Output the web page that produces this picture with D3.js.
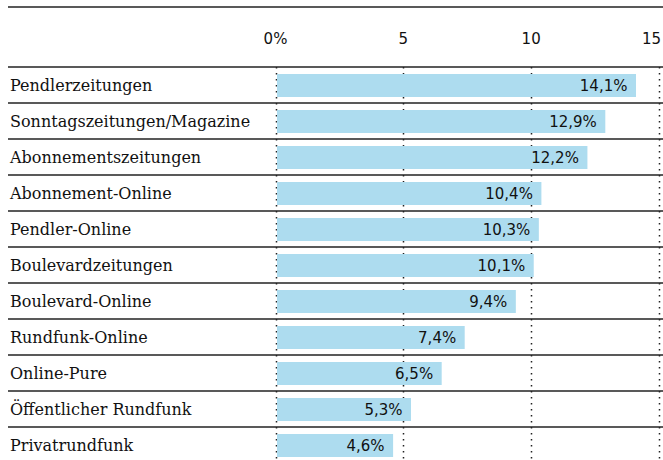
<!DOCTYPE html>
<html>
<head>
<meta charset="utf-8">
<script src="https://cdn.jsdelivr.net/npm/d3@7"></script>
<style>
  html, body { margin: 0; padding: 0; background: #fff; }
  svg { display: block; }
</style>
</head>
<body>
<svg id="chart" width="663" height="460"></svg>
<script>
// Media categories and their shares (percent)
const categories = [
  "Pendlerzeitungen",
  "Sonntagszeitungen/Magazine",
  "Abonnementszeitungen",
  "Abonnement-Online",
  "Pendler-Online",
  "Boulevardzeitungen",
  "Boulevard-Online",
  "Rundfunk-Online",
  "Online-Pure",
  "Öffentlicher Rundfunk",
  "Privatrundfunk"
];
const values = [14.1, 12.9, 12.2, 10.4, 10.3, 10.1, 9.4, 7.4, 6.5, 5.3, 4.6];
const tickValues = [0, 5, 10, 15];
const tickLabels = ["0%", "5", "10", "15"];

const W = 663, H = 460;
const left = 8, right = 663;
const headerTop = 7, headerBottom = 67;
const rowH = 36;

const svg = d3.select("#chart");

const x = d3.scaleLinear().domain([0, 15]).range([275.5, 659]);
const y = d3.scaleBand()
  .domain(categories)
  .range([headerBottom, headerBottom + rowH * categories.length])
  .paddingInner(0).paddingOuter(0);

const labelFont = "'DejaVu Serif', 'Liberation Serif', serif";
const numFont = "'DejaVu Sans', sans-serif";

// top rule
svg.append("line")
  .attr("x1", left).attr("x2", right)
  .attr("y1", headerTop).attr("y2", headerTop)
  .attr("stroke", "#222").attr("stroke-width", 1.3);

// dotted grid lines
svg.append("g").selectAll("line")
  .data(tickValues)
  .join("line")
  .attr("x1", d => Math.round(x(d)) + 0.5).attr("x2", d => Math.round(x(d)) + 0.5)
  .attr("y1", headerBottom).attr("y2", H)
  .attr("stroke", "#222").attr("stroke-width", 1.5)
  .attr("stroke-dasharray", "1.5,4.5");

// bars (drawn over the grid)
svg.append("g").selectAll("rect")
  .data(values)
  .join("rect")
  .attr("x", x(0) + 1.5)
  .attr("y", (d, i) => y(categories[i]) + 7)
  .attr("width", d => x(d) - x(0) - 1.5)
  .attr("height", 23)
  .attr("fill", "#addcef");

// row separators
svg.append("g").selectAll("line")
  .data(categories)
  .join("line")
  .attr("x1", left).attr("x2", right)
  .attr("y1", d => y(d)).attr("y2", d => y(d))
  .attr("stroke", "#222").attr("stroke-width", 1.3);

// tick labels
svg.append("g").selectAll("text")
  .data(tickValues)
  .join("text")
  .attr("x", (d, i) => i === tickValues.length - 1 ? 661 : x(d))
  .attr("y", 44)
  .attr("text-anchor", (d, i) => i === tickValues.length - 1 ? "end" : "middle")
  .attr("font-family", numFont)
  .attr("font-size", 15)
  .attr("fill", "#111")
  .text((d, i) => tickLabels[i]);

// category labels
svg.append("g").selectAll("text")
  .data(categories)
  .join("text")
  .attr("x", 10)
  .attr("y", d => y(d) + rowH / 2 + 6)
  .attr("font-family", labelFont)
  .attr("font-size", 16)
  .attr("fill", "#111")
  .text(d => d);

// value labels inside bars
svg.append("g").selectAll("text")
  .data(values)
  .join("text")
  .attr("x", d => x(d) - 8.5)
  .attr("y", (d, i) => y(categories[i]) + rowH / 2 + 6)
  .attr("text-anchor", "end")
  .attr("font-family", numFont)
  .attr("font-size", 15)
  .attr("fill", "#111")
  .text(d => d.toFixed(1).replace(".", ",") + "%");
</script>
</body>
</html>
